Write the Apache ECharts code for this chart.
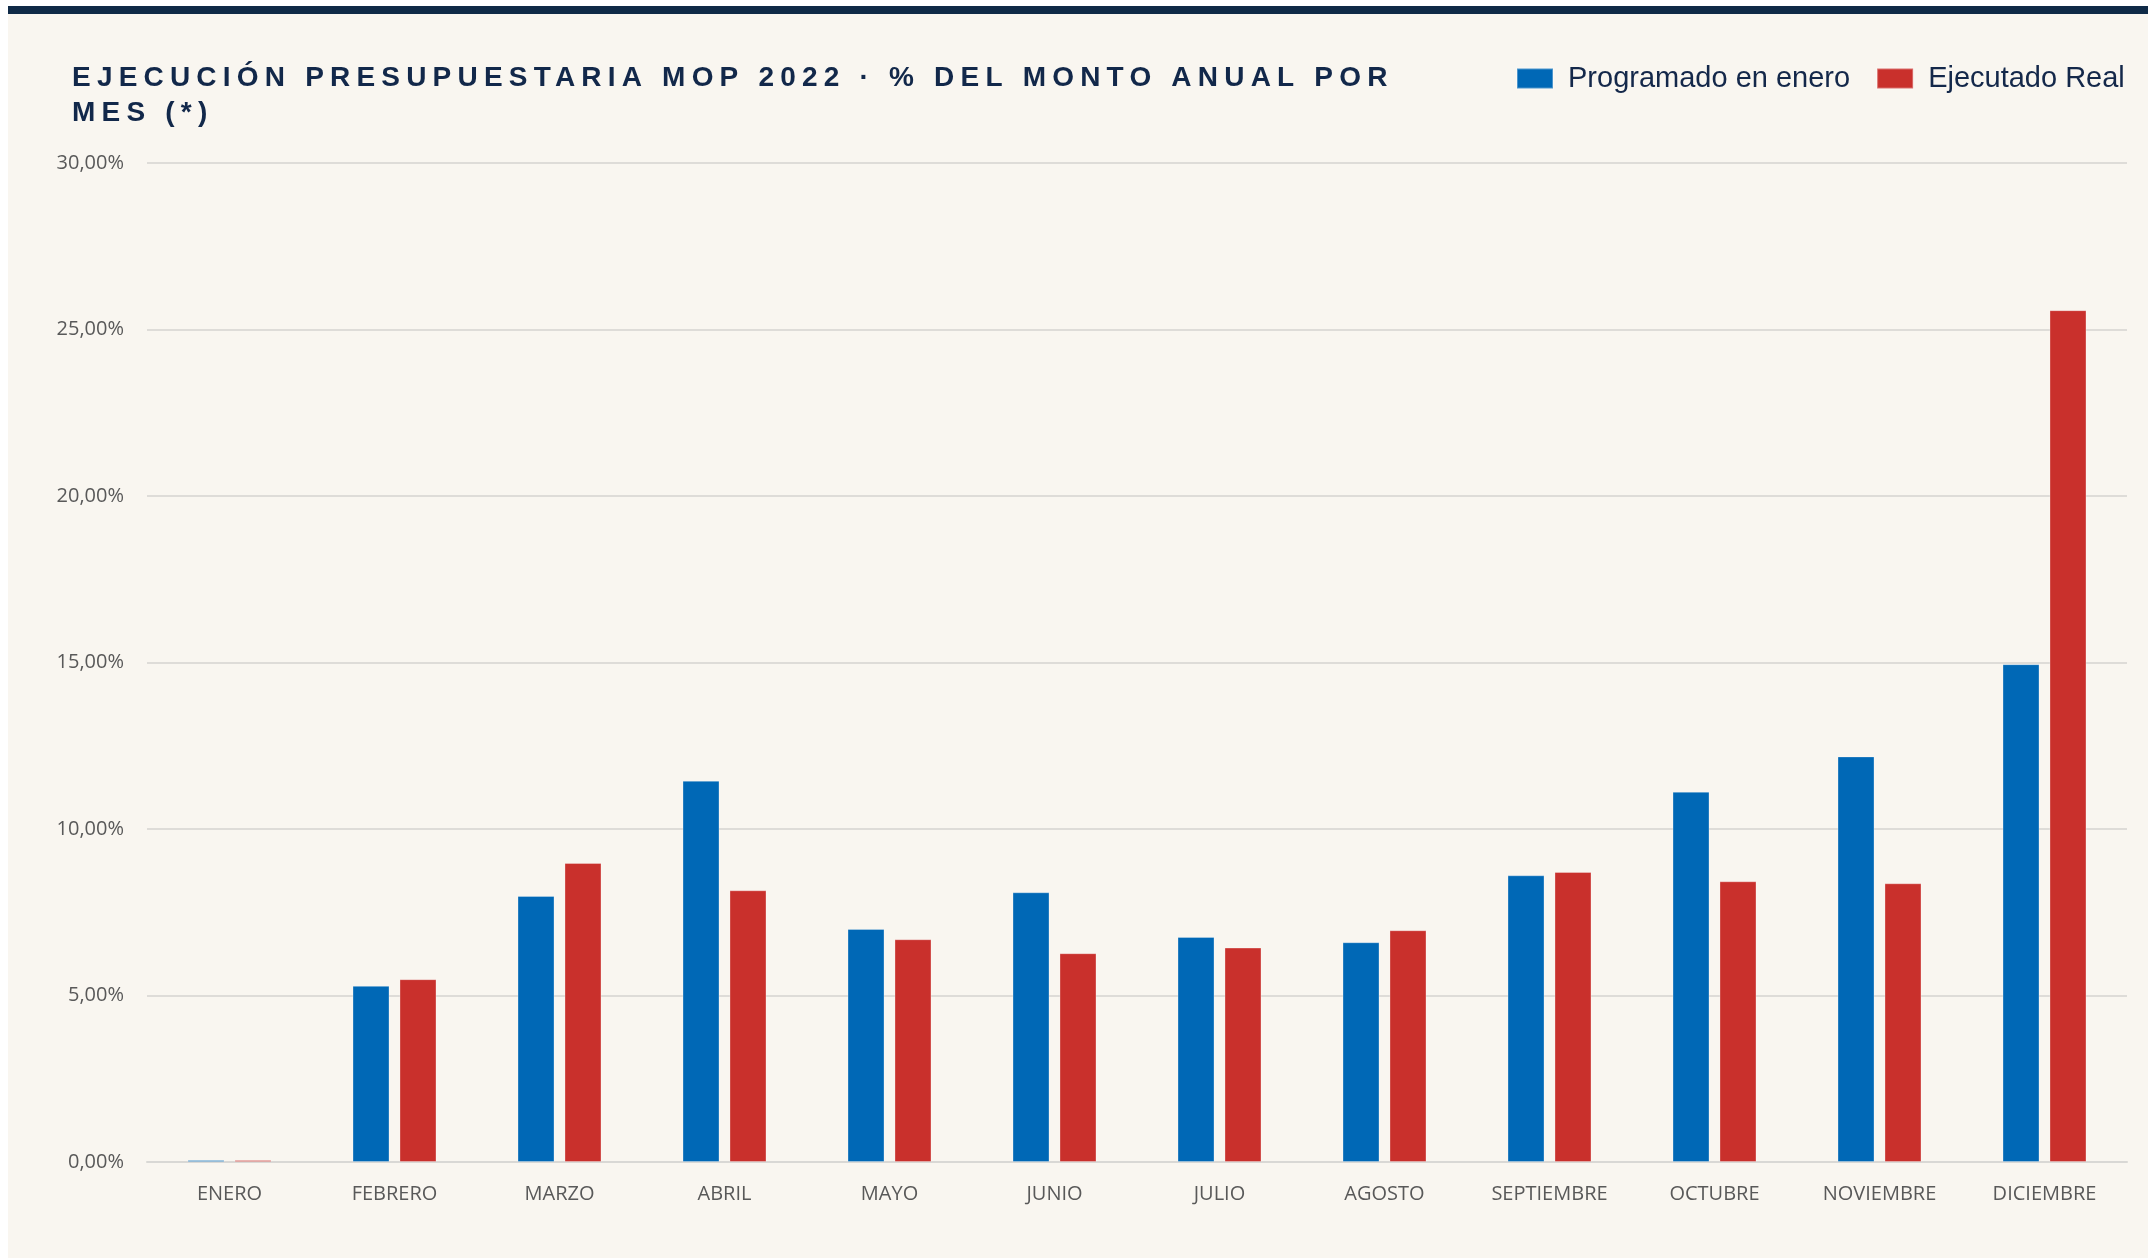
<!DOCTYPE html>
<html>
<head>
<meta charset="utf-8">
<script src="https://cdn.jsdelivr.net/npm/echarts@6/dist/echarts.min.js"></script>
<style>
  html, body { margin: 0; padding: 0; background: #ffffff; }
  #chart { position: absolute; left: 8px; top: 6px; width: 2140px; height: 1252px; }
</style>
</head>
<body>
<div id="chart"></div>
<script>
// ---- data ----
const categories = ['ENERO', 'FEBRERO', 'MARZO', 'ABRIL', 'MAYO', 'JUNIO', 'JULIO', 'AGOSTO', 'SEPTIEMBRE', 'OCTUBRE', 'NOVIEMBRE', 'DICIEMBRE'];
const programado = [0.06, 5.29, 7.99, 11.45, 7.00, 8.10, 6.76, 6.60, 8.61, 11.12, 12.18, 14.95];
const ejecutado  = [0.06, 5.49, 8.98, 8.16, 6.69, 6.27, 6.44, 6.96, 8.71, 8.43, 8.37, 25.58];
const seriesNames = ['Programado en enero', 'Ejecutado Real'];
const titleText = 'EJECUCIÓN PRESUPUESTARIA MOP 2022 · % DEL MONTO ANUAL POR\nMES (*)';
const yMin = 0, yMax = 30, yStep = 5;

// letter-spaced title (canvas letterSpacing applied only to the bold 28px title font)
(function () {
  const P = CanvasRenderingContext2D.prototype;
  const orig = P.fillText;
  P.fillText = function (t, x, y, m) {
    const f = this.font || '';
    if (f.indexOf('28px') > -1 && /bold|700/.test(f) && 'letterSpacing' in this) {
      const prev = this.letterSpacing;
      this.letterSpacing = '6.2px';
      const r = m === undefined ? orig.call(this, t, x, y) : orig.call(this, t, x, y, m);
      this.letterSpacing = prev;
      return r;
    }
    return m === undefined ? orig.call(this, t, x, y) : orig.call(this, t, x, y, m);
  };
})();

const chart = echarts.init(document.getElementById('chart'), null, { renderer: 'canvas' });
const navy = '#0f2a47';
const labelFont = 'Open Sans, DejaVu Sans, sans-serif';
const option = {
  backgroundColor: '#f9f6f0',
  animation: false,
  graphic: [{
    type: 'rect', left: 0, top: 0, z: 10,
    shape: { width: 2140, height: 8 },
    style: { fill: navy }
  }],
  title: {
    text: titleText,
    left: 64, top: 55, padding: 0,
    textStyle: { fontFamily: 'Liberation Sans, Arial, sans-serif', fontSize: 28, fontWeight: 'bold', color: '#12284a', lineHeight: 35 }
  },
  legend: {
    left: 1508, top: 58, padding: 0,
    itemWidth: 36, itemHeight: 20, itemGap: 26,
    icon: 'rect',
    textStyle: { fontFamily: 'Liberation Sans, Arial, sans-serif', fontSize: 29, color: '#14284a', padding: [0, 0, 0, 10] },
    data: seriesNames
  },
  grid: { left: 139, right: 21, top: 157, bottom: 96, containLabel: false },
  xAxis: {
    type: 'category', data: categories,
    axisTick: { show: false },
    axisLine: { show: true, lineStyle: { color: '#d9d8d5', width: 2 } },
    axisLabel: { margin: 22, color: '#595959', fontFamily: labelFont, fontSize: 20 }
  },
  yAxis: {
    type: 'value', min: yMin, max: yMax, interval: yStep,
    axisLine: { show: false }, axisTick: { show: false },
    splitLine: { lineStyle: { color: '#dedcd8', width: 2 } },
    axisLabel: {
      margin: 23, color: '#595959', fontFamily: labelFont, fontSize: 20,
      formatter: v => v.toFixed(2).replace('.', ',') + '%'
    }
  },
  series: [
    {
      name: seriesNames[0], type: 'bar', data: programado,
      barWidth: 37, barGap: '27%',
      itemStyle: { color: '#0068b6', borderColor: 'rgba(255,255,255,0.3)', borderWidth: 1 }
    },
    {
      name: seriesNames[1], type: 'bar', data: ejecutado,
      barWidth: 37, barGap: '27%',
      itemStyle: { color: '#c9302c', borderColor: 'rgba(255,255,255,0.3)', borderWidth: 1 }
    }
  ]
};
chart.setOption(option);
</script>
</body>
</html>
